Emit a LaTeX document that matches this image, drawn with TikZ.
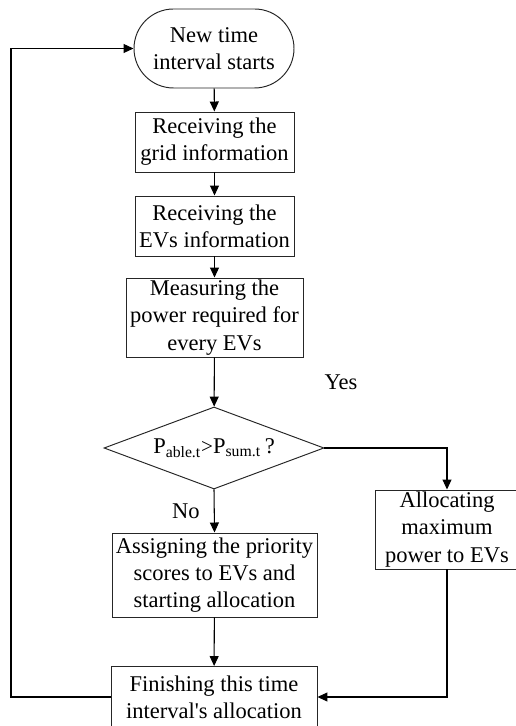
\documentclass[tikz,border=0pt]{standalone}
\usepackage{fontspec}
\setmainfont{Liberation Serif}
\usetikzlibrary{shapes.geometric,arrows.meta}

\begin{document}
\begin{tikzpicture}[x=1cm, y=1cm,
  every node/.style={font=\fontsize{12.8}{15.5}\selectfont, align=center, inner sep=0pt},
  startbox/.style={draw=black!85, line width=0.55pt, rounded corners=0.79cm, minimum width=3.2cm, minimum height=1.58cm},
  procbox/.style={draw=black!85, line width=0.55pt, minimum height=1.2cm},
  decbox/.style={draw=black!85, line width=0.55pt, diamond, aspect=2.68, minimum width=4.4cm, minimum height=1.64cm},
  flowline/.style={line width=0.6pt, -{Triangle[length=2mm, width=1.8mm]}}]
  \useasboundingbox (0,0) rectangle (10.3,14.52);
  \node[startbox] (start) at (4.28,13.55) {New time\\interval starts};
  \node[procbox, minimum width=3.18cm] (grid) at (4.29,11.68) {Receiving the\\grid information};
  \node[procbox, minimum width=3.18cm] (evs) at (4.29,10.0) {Receiving the\\EVs information};
  \node[procbox, minimum width=3.54cm, minimum height=1.58cm] (measure) at (4.29,8.17) {Measuring the\\power required for\\every EVs};
  \node[decbox] (check) at (4.28,5.56) {P\textsubscript{able.t}{\large >}P\textsubscript{sum.t}\,?};
  \node[procbox, minimum width=4.1cm, minimum height=1.68cm] (assign) at (4.29,3.02) {Assigning the priority\\scores to EVs and\\starting allocation};
  \node[procbox, minimum width=2.86cm, minimum height=1.58cm] (alloc) at (8.94,3.93) {Allocating\\maximum\\power to EVs};
  \node[procbox, minimum width=4.12cm, minimum height=1.22cm] (finish) at (4.28,0.58) {Finishing this time\\interval\textquotesingle s allocation};
  \node (yes) at (6.82,6.88) {Yes};
  \coordinate (loop) at (0.22,0.58);
  \draw[flowline] (start) -- (grid);
  \draw[flowline] (grid) -- (evs);
  \draw[flowline] (evs) -- (measure);
  \draw[flowline] (measure) -- (check);
  \draw[flowline] (check.south) -- node[midway, left, xshift=-0.28cm] (no) {No} (assign.north);
  \draw[flowline] (check.east) -| (alloc.north);
  \draw[flowline] (alloc.south) |- (finish.east);
  \draw[flowline] (assign) -- (finish);
  \draw[flowline] (finish.west) -- (loop) |- (start.west);
\end{tikzpicture}
\end{document}
